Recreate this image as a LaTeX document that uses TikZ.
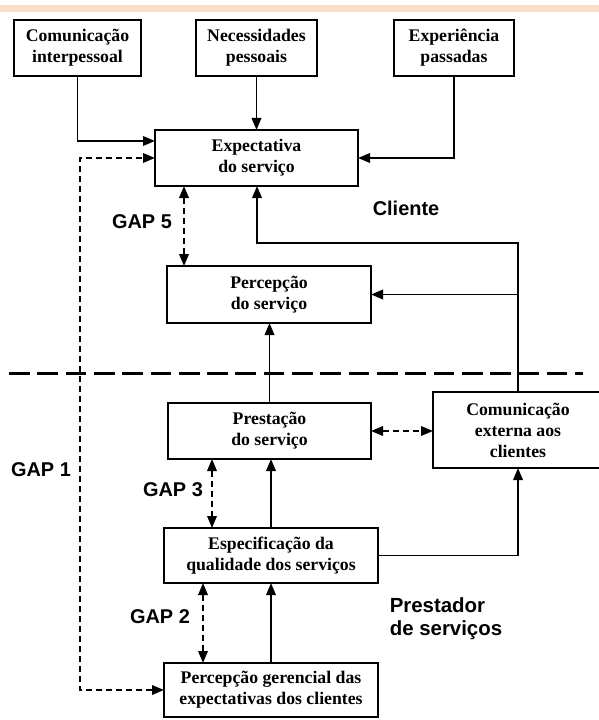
\documentclass[tikz,border=0pt]{standalone}
\usepackage{fontspec}
\setmainfont{Liberation Serif}
\setsansfont{Liberation Sans}
\usetikzlibrary{arrows.meta,calc}
\definecolor{peach}{RGB}{250,221,203}
\begin{document}
\begin{tikzpicture}[x=1bp,y=-1bp,
  box/.style={draw,line width=2.4bp,inner sep=0pt,outer sep=0pt,align=center,
    font=\fontsize{17.8}{21}\selectfont\bfseries},
  tip/.tip={Triangle[length=12bp,width=9.5bp]},
  conn/.style={line width=1.9bp,-tip},
  gap/.style={line width=1.9bp,dash pattern=on 6bp off 4bp,tip-tip},
  lbl/.style={font=\sffamily\bfseries\fontsize{20}{24}\selectfont,inner sep=0pt}]
\fill[white] (0,0) rectangle (599,720);
\useasboundingbox (0,0) rectangle (599,720);
\fill[peach] (0,5) rectangle (599,12);

% boxes
\node[box,minimum width=127bp,minimum height=56bp] (ci) at (77.5,48) {Comunicação\\interpessoal};
\node[box,minimum width=121bp,minimum height=56bp] (np) at (256.5,48) {Necessidades\\pessoais};
\node[box,minimum width=120bp,minimum height=56bp] (ep) at (454,48) {Experiência\\passadas};
\node[box,minimum width=203bp,minimum height=56bp] (exp) at (256.5,158) {Expectativa\\do serviço};
\node[box,minimum width=204bp,minimum height=57bp] (perc) at (269,294.5) {Percepção\\do serviço};
\node[box,minimum width=203bp,minimum height=56bp] (prest) at (269.5,431) {Prestação\\do serviço};
\node[box,draw=none,minimum width=170bp,minimum height=76bp] (com) at (518,430) {Comunicação\\externa aos\\clientes};
\draw[line width=2.4bp] (com.south west) rectangle ([xshift=12bp]com.north east);
\node[box,minimum width=214bp,minimum height=55bp] (esp) at (271,555.5) {Especificação da\\qualidade dos serviços};
\node[box,minimum width=214bp,minimum height=54bp] (pg) at (271,690) {Percepção gerencial das\\expectativas dos clientes};

% column coordinates
\coordinate (g1) at (80,400);
\coordinate (g5) at (184,0);
\coordinate (g3) at (212,0);
\coordinate (g2) at (203,0);
\coordinate (r1) at (257,243);

% separator
\coordinate (sl) at (9,373);
\coordinate (sr) at (583,373);
\draw[line width=3bp,dash pattern=on 20.7bp off 7.6bp] (sl) -- (sr);

% connectors
\draw[conn] (ci.south) |- ([yshift=17bp]exp.west);
\draw[conn] (np.south) -- (exp.north);
\draw[conn] (ep.south) |- (exp.east);
\draw[conn] (com.north) |- (r1) -- (r1 |- exp.south);
\draw[conn] (com.north |- perc.east) -- (perc.east);
\draw[conn] (prest.north) -- (prest.north |- perc.south);
\draw[conn] (esp.north) -- (esp.north |- prest.south);
\draw[conn] (esp.east) -| (com.south);
\draw[conn] (pg.north) -- (pg.north |- esp.south);

% gaps
\draw[gap] (pg.west) -| (g1) |- (exp.west);
\draw[gap] (g5 |- exp.south) -- (g5 |- perc.north);
\draw[gap] (g3 |- prest.south) -- (g3 |- esp.north);
\draw[gap] (g2 |- esp.south) -- (g2 |- pg.north);
\draw[gap] (prest.east) -- (com.west |- prest.east);

% labels
\node[lbl] (l5) at (142,222) {GAP 5};
\node[lbl] (lc) at (406,208) {Cliente};
\node[lbl] (l1) at (41,470) {GAP 1};
\node[lbl] (l3) at (173,490) {GAP 3};
\node[lbl] (l2) at (160,617) {GAP 2};
\node[lbl,align=left,font=\sffamily\bfseries\fontsize{20.5}{23}\selectfont] (lp) at (446,619) {Prestador\\de serviços};
\end{tikzpicture}
\end{document}
